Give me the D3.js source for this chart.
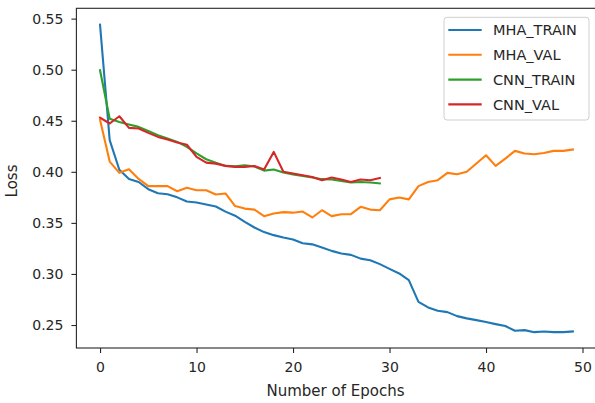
<!DOCTYPE html>
<html>
<head>
<meta charset="utf-8">
<script src="https://cdn.jsdelivr.net/npm/d3@7"></script>
<style>
  body { margin: 0; background: #fff; }
  svg { display: block; font-family: "DejaVu Sans", sans-serif; }
</style>
</head>
<body>
<script>
// loss per epoch
const mhaTrain = [0.544, 0.431, 0.402, 0.393, 0.390, 0.383, 0.379, 0.378, 0.375, 0.371,
  0.370, 0.368, 0.366, 0.361, 0.357, 0.351, 0.3455, 0.341, 0.338, 0.3357,
  0.3337, 0.330, 0.329, 0.326, 0.3226, 0.320, 0.3187, 0.315, 0.3135, 0.3096,
  0.305, 0.3005, 0.294, 0.2727, 0.2672, 0.2639, 0.2626, 0.2587, 0.2565, 0.2548,
  0.2529, 0.2509, 0.249, 0.2444, 0.245, 0.243, 0.2437, 0.243, 0.243, 0.2437];
const mhaVal = [0.451, 0.410, 0.399, 0.4025, 0.393, 0.386, 0.386, 0.386, 0.381, 0.3843,
  0.382, 0.382, 0.3778, 0.3788, 0.3665, 0.364, 0.363, 0.3566, 0.3592, 0.3605,
  0.360, 0.3611, 0.3553, 0.3624, 0.3566, 0.3585, 0.3585, 0.3657, 0.363, 0.3624,
  0.373, 0.3749, 0.373, 0.386, 0.390, 0.3918, 0.399, 0.3977, 0.400, 0.4081,
  0.4162, 0.4058, 0.413, 0.4205, 0.418, 0.4172, 0.4185, 0.4205, 0.4205, 0.4218];
const cnnTrain = [0.4994, 0.452, 0.4488, 0.4463, 0.444, 0.440, 0.4358, 0.4326, 0.4293, 0.4244,
  0.418, 0.4123, 0.409, 0.4058, 0.4055, 0.4065, 0.4052, 0.4012, 0.4023, 0.3993,
  0.3975, 0.396, 0.3944, 0.3928, 0.3925, 0.391, 0.3895, 0.390, 0.3895, 0.3886];
const cnnVal = [0.4531, 0.4473, 0.4544, 0.443, 0.4424, 0.4381, 0.4342, 0.4316, 0.4287, 0.4265,
  0.4146, 0.409, 0.408, 0.4058, 0.4048, 0.4048, 0.4057, 0.4023, 0.4195, 0.400,
  0.3983, 0.3967, 0.395, 0.3918, 0.3944, 0.3925, 0.390, 0.3925, 0.3918, 0.394];

const seriesNames = ["MHA_TRAIN", "MHA_VAL", "CNN_TRAIN", "CNN_VAL"];
const seriesColors = ["#1f77b4", "#ff7f0e", "#2ca02c", "#d62728"];
const seriesValues = [mhaTrain, mhaVal, cnnTrain, cnnVal];
const xTicks = [0, 10, 20, 30, 40, 50];
const yTicks = [0.25, 0.30, 0.35, 0.40, 0.45, 0.50, 0.55];

const width = 595, height = 403;
const plotLeft = 76.4, plotTop = 8.3, plotRight = 596.5, plotBottom = 348;

const svg = d3.select("body").append("svg")
  .attr("width", width)
  .attr("height", height);

const x = d3.scaleLinear().domain([-2.45, 51.45]).range([plotLeft, plotRight]);
const y = d3.scaleLinear().domain([0.2275, 0.5601]).range([plotBottom, plotTop]);

// lines
const line = d3.line()
  .x((d, i) => x(i))
  .y((d) => y(d));

seriesValues.forEach((vals, k) => {
  svg.append("path")
    .datum(vals)
    .attr("fill", "none")
    .attr("stroke", seriesColors[k])
    .attr("stroke-width", 2.1)
    .attr("stroke-linejoin", "round")
    .attr("stroke-linecap", "square")
    .attr("d", line);
});

// axes
const xAxis = svg.append("g")
  .attr("transform", `translate(0,${plotBottom})`)
  .call(d3.axisBottom(x).tickValues(xTicks).tickSize(5).tickPadding(9).tickFormat(d3.format("d")));

const yAxis = svg.append("g")
  .attr("transform", `translate(${plotLeft},0)`)
  .call(d3.axisLeft(y).tickValues(yTicks).tickSize(5).tickPadding(8).tickFormat(d3.format(".2f")));

[xAxis, yAxis].forEach((g) => {
  g.select(".domain").remove();
  g.selectAll(".tick line").attr("stroke", "#262626").attr("stroke-width", 1.1);
  g.selectAll(".tick text")
    .attr("fill", "#262626")
    .style("font-size", "14px")
    .style("font-family", "DejaVu Sans, sans-serif");
});

// spines (right one sits just outside the picture)
svg.append("rect")
  .attr("x", plotLeft)
  .attr("y", plotTop)
  .attr("width", plotRight - plotLeft)
  .attr("height", plotBottom - plotTop)
  .attr("fill", "none")
  .attr("stroke", "#262626")
  .attr("stroke-width", 1.1);

// axis labels
svg.append("text")
  .attr("x", 335.5)
  .attr("y", 396)
  .attr("text-anchor", "middle")
  .attr("fill", "#262626")
  .style("font-size", "15px")
  .text("Number of Epochs");

svg.append("text")
  .attr("transform", "rotate(-90)")
  .attr("x", -181)
  .attr("y", 17)
  .attr("text-anchor", "middle")
  .attr("fill", "#262626")
  .style("font-size", "15px")
  .text("Loss");

// legend
const legend = svg.append("g");
legend.append("rect")
  .attr("x", 444)
  .attr("y", 17.3)
  .attr("width", 145)
  .attr("height", 102.7)
  .attr("rx", 3)
  .attr("fill", "#fff")
  .attr("fill-opacity", 0.8)
  .attr("stroke", "#d0d0d0")
  .attr("stroke-width", 1);

const rows = legend.selectAll("g.row")
  .data(seriesNames)
  .enter()
  .append("g")
  .attr("class", "row")
  .attr("transform", (d, i) => `translate(0,${30 + i * 24.8})`);

rows.append("line")
  .attr("x1", 448.3)
  .attr("x2", 481.7)
  .attr("stroke", (d, i) => seriesColors[i])
  .attr("stroke-width", 2.1);

rows.append("text")
  .attr("x", 493)
  .attr("dy", "0.36em")
  .attr("fill", "#262626")
  .style("font-size", "14.5px")
  .text((d) => d);
</script>
</body>
</html>
